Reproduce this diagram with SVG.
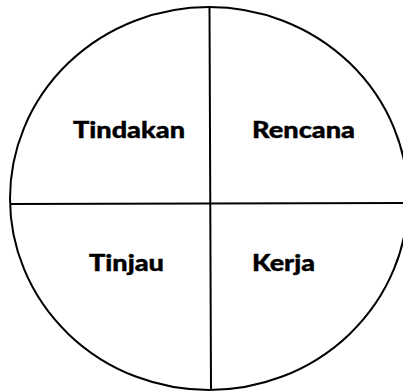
<svg xmlns="http://www.w3.org/2000/svg" width="403" height="392" viewBox="0 0 403 392">
<style>
.ln{fill:none;stroke:#000;stroke-width:2}
.lb{font-family:Lato,"Liberation Sans",sans-serif;font-weight:900;font-size:23px;fill:#000;stroke:#000;stroke-width:0.4}
</style>
<rect width="403" height="392" fill="#fff"/>
<g id="connectors">
<ellipse class="ln" cx="209" cy="198.5" rx="199" ry="191.5"/>
<line class="ln" x1="10" y1="204" x2="403" y2="203"/>
<line class="ln" x1="209.5" y1="7" x2="211" y2="390"/>
</g>
<g id="tindakan"><text class="lb" x="73" y="138" textLength="112" lengthAdjust="spacingAndGlyphs">Tindakan</text></g>
<g id="rencana"><text class="lb" x="252" y="138" textLength="103" lengthAdjust="spacingAndGlyphs">Rencana</text></g>
<g id="tinjau"><text class="lb" x="89" y="271" textLength="75" lengthAdjust="spacingAndGlyphs">Tinjau</text></g>
<g id="kerja"><text class="lb" x="252" y="271" textLength="63" lengthAdjust="spacingAndGlyphs">Kerja</text></g>
</svg>
